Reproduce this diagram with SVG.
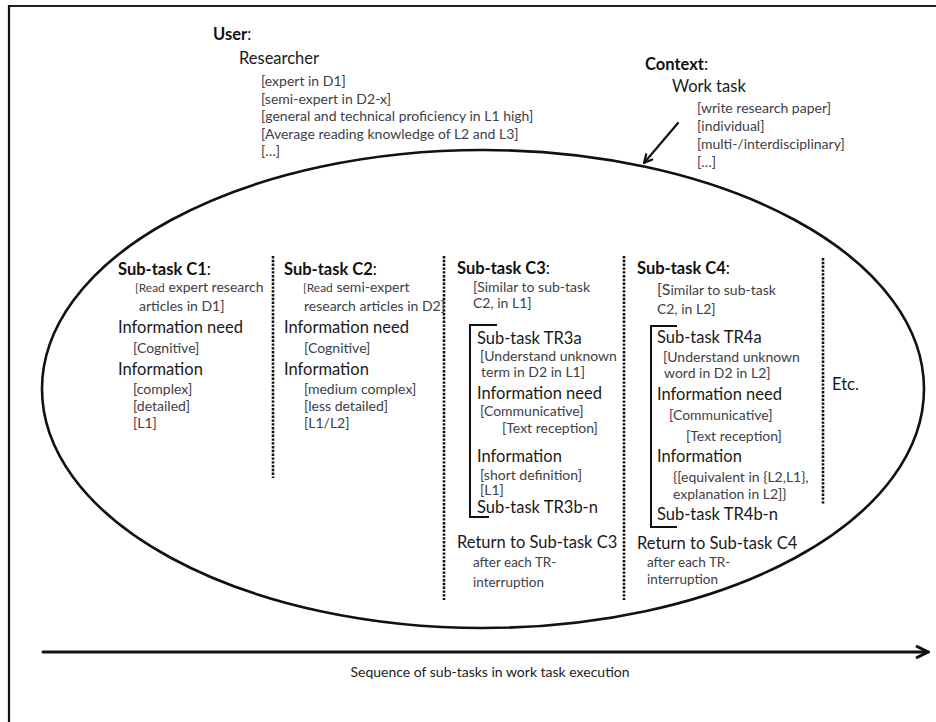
<svg xmlns="http://www.w3.org/2000/svg" width="936" height="722" viewBox="0 0 936 722">
<style>
text{font-family:Lato,"Liberation Sans",sans-serif;}
.h{font-size:16.5px;font-weight:bold;fill:#111;}
.c{font-weight:normal;}
.m{font-size:16.5px;fill:#1a1a1a;}
.s{font-size:14px;fill:#404048;}
.t{font-size:13.5px;fill:#404048;}
.sm{font-size:12px;}
.bg{font-size:16px;}
.dot{stroke:#111;stroke-width:2.6;stroke-dasharray:2.4 1.4;fill:none;}
.br{stroke:#111;stroke-width:2;fill:none;}
.ln{stroke:#111;fill:none;stroke-linecap:round;stroke-linejoin:round;}
</style>
<defs>
<marker id="chev" viewBox="0 0 10 10" refX="9" refY="5" markerWidth="5" markerHeight="5" orient="auto" markerUnits="strokeWidth">
<path d="M1,1 L9,5 L1,9" fill="none" stroke="#111" stroke-width="2"/>
</marker>
</defs>
<rect width="936" height="722" fill="#fff"/>
<g id="frame">
<line x1="8" y1="6" x2="936" y2="6" stroke="#222" stroke-width="2"/>
<line x1="9" y1="5" x2="9" y2="722" stroke="#111" stroke-width="2.2"/>
</g>
<ellipse id="work-task-ellipse" cx="483" cy="389" rx="441" ry="239" fill="none" stroke="#111" stroke-width="2.6"/>
<g id="connectors">
<line class="ln" x1="678" y1="123" x2="644" y2="163" stroke-width="2.2" marker-end="url(#chev)"/>
<line class="ln" x1="43" y1="652" x2="928" y2="652" stroke-width="3" marker-end="url(#chev)"/>
</g>
<g id="dividers">
<line class="dot" x1="273" y1="256" x2="273" y2="478"/>
<line class="dot" x1="444" y1="256" x2="444" y2="600"/>
<line class="dot" x1="624" y1="256" x2="624" y2="600"/>
<line class="dot" x1="823" y1="258" x2="823" y2="505"/>
</g>
<g id="user">
<text class="h" x="213" y="40">User<tspan class="c">:</tspan></text>
<text class="m" x="239" y="64">Researcher</text>
<text class="s" x="261" y="86">[expert in D1]</text>
<text class="s" x="261" y="103.5">[semi-expert in D2-x]</text>
<text class="s" x="261" y="121">[general and technical proficiency in L1 high]</text>
<text class="s" x="261" y="138.5">[Average reading knowledge of L2 and L3]</text>
<text class="s" x="261" y="156">[…]</text>
</g>
<g id="context">
<text class="h" x="645" y="70">Context<tspan class="c">:</tspan></text>
<text class="m" x="672" y="92">Work task</text>
<text class="s" x="697" y="113">[write research paper]</text>
<text class="s" x="697" y="131">[individual]</text>
<text class="s" x="697" y="149">[multi-/interdisciplinary]</text>
<text class="s" x="697" y="167">[…]</text>
</g>
<g id="subtask-c1">
<text class="h" x="118" y="275">Sub-task C1<tspan class="c">:</tspan></text>
<text class="s" x="135" y="292"><tspan class="sm">[Read</tspan> expert research</text>
<text class="s" x="139" y="311">articles in D1]</text>
<text class="m" x="118" y="333">Information need</text>
<text class="s" x="133" y="353">[Cognitive]</text>
<text class="m" x="118" y="375">Information</text>
<text class="s" x="133" y="394">[complex]</text>
<text class="s" x="133" y="411">[detailed]</text>
<text class="s" x="133" y="428">[L1]</text>
</g>
<g id="subtask-c2">
<text class="h" x="284" y="275">Sub-task C2<tspan class="c">:</tspan></text>
<text class="s" x="303" y="292"><tspan class="sm">[Read</tspan> semi-expert</text>
<text class="s" x="304" y="311">research articles in D2]</text>
<text class="m" x="284" y="333">Information need</text>
<text class="s" x="304" y="353">[Cognitive]</text>
<text class="m" x="284" y="375">Information</text>
<text class="s" x="304" y="394">[medium complex]</text>
<text class="s" x="304" y="411">[less detailed]</text>
<text class="s" x="304" y="428">[L1/L2]</text>
</g>
<g id="subtask-c3">
<text class="h" x="457" y="274">Sub-task C3<tspan class="c">:</tspan></text>
<text class="s" x="473" y="292">[Similar to sub-task</text>
<text class="s" x="473" y="308">C2, in L1]</text>
<path class="br" d="M497,325 H470 V517 H489"/>
<text class="m" x="477" y="344">Sub-task TR3a</text>
<text class="s" x="480" y="361">[Understand unknown</text>
<text class="s" x="481" y="377">term in D2 in L1]</text>
<text class="m" x="477" y="399">Information need</text>
<text class="s" x="480" y="416">[Communicative]</text>
<text class="s" x="502" y="433">[Text reception]</text>
<text class="m" x="477" y="462">Information</text>
<text class="s" x="480" y="480">[short definition]</text>
<text class="s" x="480" y="495">[L1]</text>
<text class="m" x="477" y="513">Sub-task TR3b-n</text>
<text class="m" x="457" y="548">Return to Sub-task C3</text>
<text class="t" x="473" y="567">after each TR-</text>
<text class="t" x="473" y="587">interruption</text>
</g>
<g id="subtask-c4">
<text class="h" x="637" y="274">Sub-task C4<tspan class="c">:</tspan></text>
<text class="s" x="657" y="295"><tspan class="bg">[S</tspan>imilar to sub-task</text>
<text class="s" x="657" y="314">C2, in L2]</text>
<path class="br" d="M677,326 H651 V527 H677"/>
<text class="m" x="657" y="343">Sub-task TR4a</text>
<text class="s" x="663" y="362">[Understand unknown</text>
<text class="s" x="664" y="378">word in D2 in L2]</text>
<text class="m" x="657" y="400">Information need</text>
<text class="s" x="669" y="420">[Communicative]</text>
<text class="s" x="686" y="441">[Text reception]</text>
<text class="m" x="657" y="462">Information</text>
<text class="s" x="673" y="482">{[equivalent in {L2,L1},</text>
<text class="s" x="673" y="499">explanation in L2]}</text>
<text class="m" x="657" y="520">Sub-task TR4b-n</text>
<text class="m" x="637" y="549">Return to Sub-task C4</text>
<text class="t" x="647" y="567">after each TR-</text>
<text class="t" x="647" y="584">interruption</text>
</g>
<g id="etc">
<text class="m" x="832" y="390">Etc.</text>
</g>
<g id="axis-label">
<text class="s" x="490" y="677" text-anchor="middle" style="font-size:14px;fill:#222">Sequence of sub-tasks in work task execution</text>
</g>
</svg>
